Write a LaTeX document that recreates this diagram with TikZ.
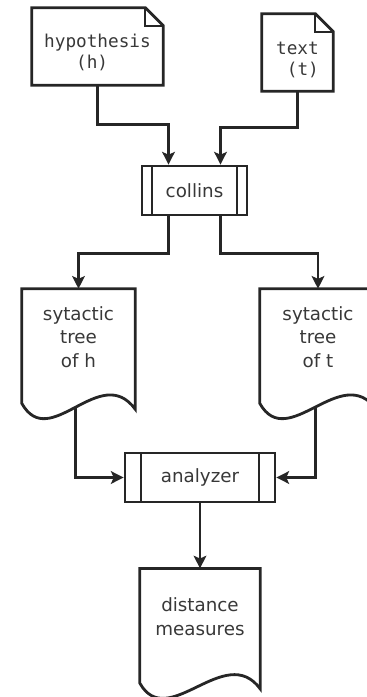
\documentclass[tikz,border=0pt]{standalone}
\usepackage{fontspec}
\setmainfont{DejaVu Sans}
\setmonofont{DejaVu Sans Mono}
\usepackage{tikz}
\usetikzlibrary{arrows.meta,positioning}
\colorlet{inkgray}{black!85}
\colorlet{textgray}{black!78}
\newcommand{\notefold}{0.45cm}
\newcommand{\notetop}{0.35cm}
\tikzset{
  outline/.style={line width=2pt, draw=inkgray},
  arr/.style={-{Stealth[length=9pt, width=9pt, inset=2pt]}, line width=2pt, draw=inkgray},
  note/.style={minimum width=#1, minimum height=1.575cm, inner sep=0pt,
               font=\ttfamily\fontsize{12.6}{15}\selectfont, align=left, text=textgray},
  doc/.style={minimum width=#1, minimum height=2.4cm, inner sep=0pt,
              font=\fontsize{13}{16.8}\selectfont, align=center, text=textgray},
  proc/.style={rectangle, draw=inkgray, line width=2pt, fill=white,
               minimum height=1.225cm, font=\fontsize{13}{16.8}\selectfont, text=textgray,
               path picture={
                 \draw[inkgray, line width=1.6pt]
                   ([xshift=#1]path picture bounding box.north west) -- ([xshift=#1]path picture bounding box.south west)
                   ([xshift=-#1]path picture bounding box.north east) -- ([xshift=-#1]path picture bounding box.south east);
               }},
}
% dog-eared page round a node, a little taller than the node at the top
\newcommand{\noteshape}[1]{%
  \draw[outline] (#1.south west) -- ([yshift=\notetop]#1.north west)
    -- ([shift={(-\notefold,\notetop)}]#1.north east)
    -- ([yshift=\notetop-\notefold]#1.north east) -- (#1.south east) -- cycle;
  \draw[outline, line width=1.3pt] ([shift={(-\notefold,\notetop)}]#1.north east)
    |- ([yshift=\notetop-\notefold]#1.north east);}
% page with a wavy bottom, names the middle of the wave #1-w
\newcommand{\docshape}[1]{%
  \draw[outline] ([yshift=-0.45cm]#1.south west) -- (#1.north west) -- (#1.north east)
    -- ([yshift=-0.6cm]#1.south east)
    .. controls +(-0.875,1.2) and +(0.7,-1.25) .. ([yshift=-0.45cm]#1.south west)
    coordinate[pos=0.5] (#1-w) -- cycle;}

\begin{document}
\begin{tikzpicture}
  \useasboundingbox (0,0) rectangle (9.175,-17.425);
  \clip (0,0) rectangle (9.175,-17.425);

  % inputs
  \node[note=3.275cm] (hyp) at (2.4375,-1.3375) {hypothesis\\\phantom{hyp}(h)};
  \node[note=1.775cm] (txt) at (7.4375,-1.4875) {text\\\phantom{t}(t)};
  \noteshape{hyp}
  \noteshape{txt}

  % parser
  \node[proc=0.25cm, minimum width=2.625cm] (collins) at (4.8625,-4.7625) {collins};

  % parse trees (the right one runs past the page edge)
  \node[doc=2.825cm] (treeh) at (1.9625,-8.425) {sytactic\\tree\\of h};
  \node[doc=2.9cm] (treet) at (7.95,-8.425) {sytactic\\tree\\of t};
  \docshape{treeh}
  \docshape{treet}

  % comparison
  \node[proc=0.4cm, minimum width=3.75cm] (analyzer) at (5.0,-11.9375) {analyzer};
  \node[doc=3.0cm, below=1.625cm of analyzer] (dist) {distance\\measures};
  \docshape{dist}

  \draw[arr] (hyp.south) -- ++(0,-0.975) -| ([xshift=-0.65cm]collins.north);
  \draw[arr] (txt.south) -- ++(0,-0.9) -| ([xshift=0.65cm]collins.north);
  \draw[arr] ([xshift=-0.65cm]collins.south) -- ++(0,-0.925) -| (treeh.north);
  \draw[arr] ([xshift=0.65cm]collins.south) -- ++(0,-0.925) -| (treet.north);
  \draw[arr] (treeh-w) |- (analyzer.west);
  \draw[arr] (treet-w) |- (analyzer.east);
  \draw[arr] (analyzer) -- (dist);
\end{tikzpicture}
\end{document}
